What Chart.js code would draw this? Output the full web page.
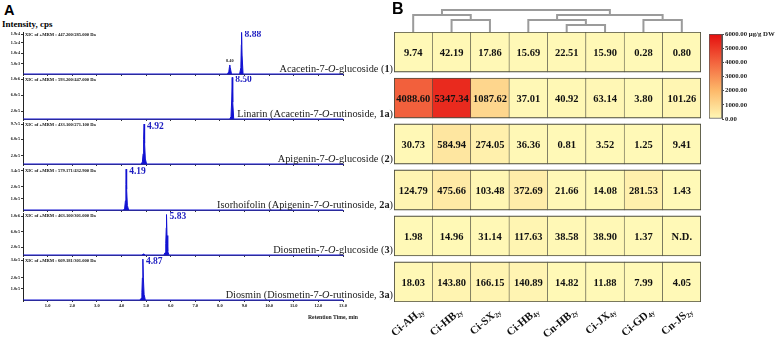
<!DOCTYPE html>
<html>
<head>
<meta charset="utf-8">
<title>Flavonoid glycosides: MRM chromatograms and contents</title>
<script src="https://cdn.jsdelivr.net/npm/chart.js@4.4.1/dist/chart.umd.min.js"></script>
<style>
  html, body { margin: 0; padding: 0; background: #fff; }
  #fig { position: relative; width: 780px; height: 337px; overflow: hidden; background: #fff; }
  #fig canvas { position: absolute; }
  .lbl { position: absolute; z-index: 2; white-space: nowrap; line-height: 1; color: #1a1a1a;
         font-family: "Liberation Serif", "Times New Roman", serif; }
  .panel { font-family: "Liberation Sans", Arial, sans-serif; font-weight: bold; color: #000; }
  .cmp { font-size: 10.3px; right: 387px; }
</style>
</head>
<body>
<div id="fig">
  <div class="lbl panel" style="left:4px;top:3px;font-size:14.5px;">A</div>
  <div class="lbl panel" style="left:392px;top:1px;font-size:16px;">B</div>
  <div class="lbl" style="left:2px;top:19.5px;font-size:9px;font-weight:bold;color:#000;">Intensity, cps</div>
  <div class="lbl" style="left:308px;top:314.5px;font-size:5.7px;font-weight:bold;">Retention Time, min</div>
  <div class="lbl cmp" style="top:63.8px">Acacetin-7-<i>O</i>-glucoside (<b>1</b>)</div>
  <div class="lbl cmp" style="top:108.8px">Linarin (Acacetin-7-<i>O</i>-rutinoside, <b>1a</b>)</div>
  <div class="lbl cmp" style="top:153.8px">Apigenin-7-<i>O</i>-glucoside (<b>2</b>)</div>
  <div class="lbl cmp" style="top:199.8px">Isorhoifolin (Apigenin-7-<i>O</i>-rutinoside, <b>2a</b>)</div>
  <div class="lbl cmp" style="top:244.8px">Diosmetin-7-<i>O</i>-glucoside (<b>3</b>)</div>
  <div class="lbl cmp" style="top:289.8px">Diosmin (Diosmetin-7-<i>O</i>-rutinoside, <b>3a</b>)</div>
</div>
<script>
// ---- panel A: MRM chromatograms (retention time in min, intensity in cps)
const rt1  = [0, 8.30, 8.36, 8.39, 8.40, 8.42, 8.47, 8.80, 8.85, 8.87, 8.88, 8.90, 8.94, 13];
const int1 = [0, 0, 1000, 3600, 4300, 3000, 0, 0, 3000, 14000, 19800, 9000, 0, 0];
const rt2  = [0, 8.40, 8.45, 8.48, 8.50, 8.52, 8.56, 13];
const int2 = [0, 0, 60000, 500000, 1040000, 420000, 0, 0];
const rt3  = [0, 4.80, 4.85, 4.88, 4.90, 4.92, 4.94, 4.97, 5.02, 13];
const int3 = [0, 0, 50000, 250000, 600000, 970000, 500000, 120000, 0, 0];
const rt4  = [0, 4.08, 4.13, 4.16, 4.18, 4.19, 4.21, 4.24, 4.29, 13];
const int4 = [0, 0, 15000, 80000, 220000, 355000, 180000, 40000, 0, 0];
const rt5  = [0, 4.84, 4.88, 4.92, 4.96, 5.72, 5.77, 5.80, 5.82, 5.83, 5.85, 5.88, 5.93, 13];
const int5 = [0, 0, 25000, 25000, 0, 0, 60000, 300000, 700000, 1040000, 500000, 90000, 0, 0];
const rt6  = [0, 4.75, 4.80, 4.83, 4.85, 4.87, 4.89, 4.92, 4.97, 13];
const int6 = [0, 0, 15000, 70000, 200000, 370000, 200000, 50000, 0, 0];

const yMax = [20000, 1050000, 1020000, 365000, 1080000, 380000];
const yTicks1 = [5000, 10000, 15000, 19000];
const yTicks2 = [200000, 600000, 1000000];
const yTicks3 = [200000, 600000, 970000];
const yTicks4 = [100000, 200000, 340000];
const yTicks5 = [200000, 600000, 1000000];
const yTicks6 = [100000, 200000, 360000];
const xicText = [
  'XIC of +MRM : 447.200/285.000 Da',
  'XIC of +MRM : 593.200/447.000 Da',
  'XIC of +MRM : 433.100/271.100 Da',
  'XIC of +MRM : 579.171/432.900 Da',
  'XIC of +MRM : 463.100/301.000 Da',
  'XIC of +MRM : 609.181/301.000 Da'
];
const majorPeaks = [8.88, 8.50, 4.92, 4.19, 5.83, 4.87];
const minorPeaks = [[8.40], [], [], [], [], []];

// ---- panel B: contents (ug/g DW), rows = compounds, columns = samples
const samples    = ['Ci-AH', 'Ci-HB', 'Ci-SX', 'Ci-HB', 'Cn-HB', 'Ci-JX', 'Ci-GD', 'Cn-JS'];
const sampleAges = ['2y', '2y', '2y', '4y', '2y', '4y', '4y', '2y'];
const content1  = [9.74, 42.19, 17.86, 15.69, 22.51, 15.90, 0.28, 0.80];
const content1a = [4088.60, 5347.34, 1087.62, 37.01, 40.92, 63.14, 3.80, 101.26];
const content2  = [30.73, 584.94, 274.05, 36.36, 0.81, 3.52, 1.25, 9.41];
const content2a = [124.79, 475.66, 103.48, 372.69, 21.66, 14.08, 281.53, 1.43];
const content3  = [1.98, 14.96, 31.14, 117.63, 38.58, 38.90, 1.37, null];
const content3a = [18.03, 143.80, 166.15, 140.89, 14.82, 11.88, 7.99, 4.05];

// dendrogram merges over samples: [left node, right node, height]; new nodes get ids 8, 9, ...
const dendroMerges = [[1, 2, 12], [0, 8, 17], [4, 5, 7], [3, 10, 12], [6, 7, 12], [11, 12, 17], [9, 13, 22]];

// colour scale
const colorStops = [0, 2000, 4000, 6000];
const colorRGB = [[255, 249, 183], [253, 185, 106], [243, 100, 62], [228, 14, 14]];
const colorTicks = [0, 1000, 2000, 3000, 4000, 5000, 6000];

const peakBlue = '#1212d2';
const serif = 'Liberation Serif';
Chart.defaults.font.family = serif;

const fig = document.getElementById('fig');
function addCanvas(left, top, w, h) {
  const c = document.createElement('canvas');
  c.width = w; c.height = h;
  c.style.left = left + 'px'; c.style.top = top + 'px';
  c.style.width = w + 'px'; c.style.height = h + 'px';
  fig.appendChild(c);
  return c;
}
function sci(v) {
  const e = Math.floor(Math.log10(v) + 1e-9);
  return (v / Math.pow(10, e)).toFixed(1) + 'e' + e;
}
const rgb = c => `rgb(${c.join(',')})`;
function heatColor(v) {
  v = Math.max(0, Math.min(colorStops[colorStops.length - 1], v));
  let k = 0;
  while (k < colorStops.length - 2 && v > colorStops[k + 1]) k++;
  const t = (v - colorStops[k]) / (colorStops[k + 1] - colorStops[k]);
  return rgb(colorRGB[k].map((a, n) => Math.round(a + (colorRGB[k + 1][n] - a) * t)));
}

// labels inside each chromatogram
const chromLabels = {
  id: 'chromLabels',
  afterDatasetsDraw(chart, args, o) {
    const {ctx, chartArea, scales: {x, y}} = chart;
    ctx.save();
    ctx.fillStyle = '#111';
    ctx.font = `bold 4.6px "${serif}"`;
    ctx.textBaseline = 'top';
    ctx.fillText(o.xic, chartArea.left + 2, chartArea.top + 0.5);

    const k = o.rt.indexOf(o.major);
    ctx.fillStyle = '#1c1cc0';
    ctx.font = `bold 9.5px "${serif}"`;
    ctx.textBaseline = 'middle';
    ctx.fillText(o.major.toFixed(2), x.getPixelForValue(o.major) + 3, y.getPixelForValue(o.inten[k]) + 2);

    ctx.fillStyle = '#222';
    ctx.font = `bold 4.3px "${serif}"`;
    ctx.textAlign = 'center';
    o.minor.forEach(t => {
      const m = o.rt.indexOf(t);
      ctx.fillText(t.toFixed(2), x.getPixelForValue(t), y.getPixelForValue(o.inten[m]) - 4);
    });
    ctx.restore();
  }
};

const rts = [rt1, rt2, rt3, rt4, rt5, rt6];
const ints = [int1, int2, int3, int4, int5, int6];
const yTicks = [yTicks1, yTicks2, yTicks3, yTicks4, yTicks5, yTicks6];
const baselines = [74, 119, 164, 210, 255, 300];

rts.forEach((rt, i) => {
  const last = i === rts.length - 1;
  const axisH = last ? 12 : 3;
  const cv = addCanvas(0, baselines[i] - 43, 350, 43 + axisH);
  new Chart(cv, {
    type: 'line',
    data: {
      datasets: [{
        data: rt.map((t, n) => ({x: t, y: ints[i][n]})),
        borderColor: peakBlue,
        backgroundColor: peakBlue,
        borderWidth: 1,
        fill: 'origin',
        pointRadius: 0,
        tension: 0
      }]
    },
    options: {
      responsive: false,
      animation: false,
      events: [],
      layout: {padding: {left: 0, right: 7, top: 1, bottom: 0}},
      plugins: {
        legend: {display: false},
        tooltip: {enabled: false},
        chromLabels: {xic: xicText[i], rt: rt, inten: ints[i], major: majorPeaks[i], minor: minorPeaks[i]}
      },
      scales: {
        x: {
          type: 'linear', min: 0, max: 13,
          ticks: {
            stepSize: 1, display: last, autoSkip: false, maxRotation: 0, padding: 1,
            color: '#111', font: {size: 4.5, weight: 'bold'},
            callback: v => (v === 0 ? '' : v.toFixed(1))
          },
          grid: {drawOnChartArea: false, tickLength: 2, color: '#333'},
          border: {color: '#2a2a9c', width: 1},
          afterFit: s => { s.height = axisH; s.paddingLeft = 0; s.paddingRight = 0; }
        },
        y: {
          min: 0, max: yMax[i],
          afterBuildTicks: s => { s.ticks = yTicks[i].map(v => ({value: v})); },
          ticks: {autoSkip: false, padding: 1, color: '#111', font: {size: 4.2, weight: 'bold'}, callback: v => sci(v)},
          grid: {drawOnChartArea: false, tickLength: 2, color: '#333'},
          border: {color: '#222', width: 1},
          afterFit: s => { s.width = 23; s.paddingTop = 0; s.paddingBottom = 0; }
        }
      }
    },
    plugins: [chromLabels]
  });
});

// ---- heatmap
const heatRows = [content1, content1a, content2, content2a, content3, content3a];
const rowSpan = 0.873;
const cellEdge = '#4d4d3f';

const cellText = {
  id: 'cellText',
  afterDatasetsDraw(chart) {
    const {ctx, chartArea, scales: {x}} = chart;
    ctx.save();
    ctx.fillStyle = '#111';
    ctx.font = `bold 10.5px "${serif}"`;
    ctx.textAlign = 'center';
    ctx.textBaseline = 'middle';
    chart.data.datasets.forEach((ds, i) => {
      chart.getDatasetMeta(i).data.forEach((el, j) => {
        const v = ds.data[j].v;
        ctx.fillText(v == null ? 'N.D.' : v.toFixed(2), el.x, (el.y + el.base) / 2 + 1);
      });
    });
    // rotated sample names with subscript age
    ctx.textAlign = 'left';
    samples.forEach((name, j) => {
      ctx.save();
      ctx.translate(x.getPixelForValue(j) + 9, chartArea.bottom + 8);
      ctx.rotate(-40 * Math.PI / 180);
      ctx.font = `bold 7px "${serif}"`;
      const ws = ctx.measureText(sampleAges[j]).width;
      ctx.font = `bold 11px "${serif}"`;
      const wm = ctx.measureText(name).width;
      ctx.fillText(name, -(wm + ws), 0);
      ctx.font = `bold 7px "${serif}"`;
      ctx.fillText(sampleAges[j], -ws, 3);
      ctx.restore();
    });
    ctx.restore();
  }
};

new Chart(addCanvas(380, 20, 330, 317), {
  type: 'bar',
  data: {
    datasets: heatRows.map((row, i) => ({
      data: row.map((v, j) => ({x: j, y: [i, i + rowSpan], v: v})),
      backgroundColor: row.map(v => heatColor(v == null ? 0 : v)),
      borderColor: cellEdge,
      borderWidth: c => ({
        top: 1.2, bottom: 1.2,
        left: c.dataIndex === 0 ? 1.2 : 0.6,
        right: c.dataIndex === samples.length - 1 ? 1.2 : 0.6
      }),
      borderSkipped: false,
      grouped: false,
      barPercentage: 1,
      categoryPercentage: 1
    }))
  },
  options: {
    responsive: false,
    animation: false,
    events: [],
    layout: {padding: {left: 14, right: 9, top: 12, bottom: 35}},
    plugins: {legend: {display: false}, tooltip: {enabled: false}},
    scales: {
      x: {
        type: 'linear', display: false, offset: false, min: -0.5, max: samples.length - 0.5,
        afterBuildTicks: s => { s.ticks = samples.map((_, j) => ({value: j})); }
      },
      y: {display: false, reverse: true, min: 0, max: heatRows.length - 1 + rowSpan}
    }
  },
  plugins: [cellText]
});

// ---- dendrogram
const nodeX = samples.map((_, j) => j);
const nodeH = samples.map(() => 0);
const dendroSets = dendroMerges.map(([a, b, h]) => {
  const pts = [{x: nodeX[a], y: nodeH[a]}, {x: nodeX[a], y: h}, {x: nodeX[b], y: h}, {x: nodeX[b], y: nodeH[b]}];
  nodeX.push((nodeX[a] + nodeX[b]) / 2);
  nodeH.push(h);
  return {data: pts, borderColor: '#9b9b9b', borderWidth: 2, pointRadius: 0, fill: false, tension: 0, clip: false};
});

new Chart(addCanvas(380, 0, 330, 34), {
  type: 'line',
  data: {datasets: dendroSets},
  options: {
    responsive: false,
    animation: false,
    events: [],
    layout: {padding: {left: 14, right: 9, top: 9, bottom: 2}},
    plugins: {legend: {display: false}, tooltip: {enabled: false}},
    scales: {
      x: {type: 'linear', display: false, offset: false, min: -0.5, max: samples.length - 0.5},
      y: {display: false, min: 0, max: 23}
    }
  }
});

// ---- colour bar
new Chart(addCanvas(700, 25, 80, 105), {
  type: 'bar',
  data: {
    labels: [''],
    datasets: [{
      data: [[colorTicks[0], colorTicks[colorTicks.length - 1]]],
      backgroundColor: c => {
        const a = c.chart.chartArea;
        if (!a) return rgb(colorRGB[0]);
        const g = c.chart.ctx.createLinearGradient(0, a.bottom, 0, a.top);
        colorStops.forEach((s, k) => g.addColorStop(s / colorStops[colorStops.length - 1], rgb(colorRGB[k])));
        return g;
      },
      borderColor: '#555',
      borderWidth: 1,
      borderSkipped: false,
      barPercentage: 1,
      categoryPercentage: 1
    }]
  },
  options: {
    responsive: false,
    animation: false,
    events: [],
    layout: {padding: {left: 9, right: 0, top: 9, bottom: 11}},
    plugins: {legend: {display: false}, tooltip: {enabled: false}},
    scales: {
      x: {display: false},
      y: {
        position: 'right', min: 0, max: 6000,
        afterBuildTicks: s => { s.ticks = colorTicks.map(v => ({value: v})); },
        ticks: {
          padding: 1, color: '#1a1a1a', font: {size: 6.8, weight: 'bold'},
          callback: v => v.toFixed(2) + (v === 6000 ? ' \u03bcg/g DW' : '')
        },
        grid: {drawOnChartArea: false, tickLength: 2, color: '#444'},
        border: {color: '#555'},
        afterFit: s => { s.width = 58; }
      }
    }
  }
});
</script>
</body>
</html>
